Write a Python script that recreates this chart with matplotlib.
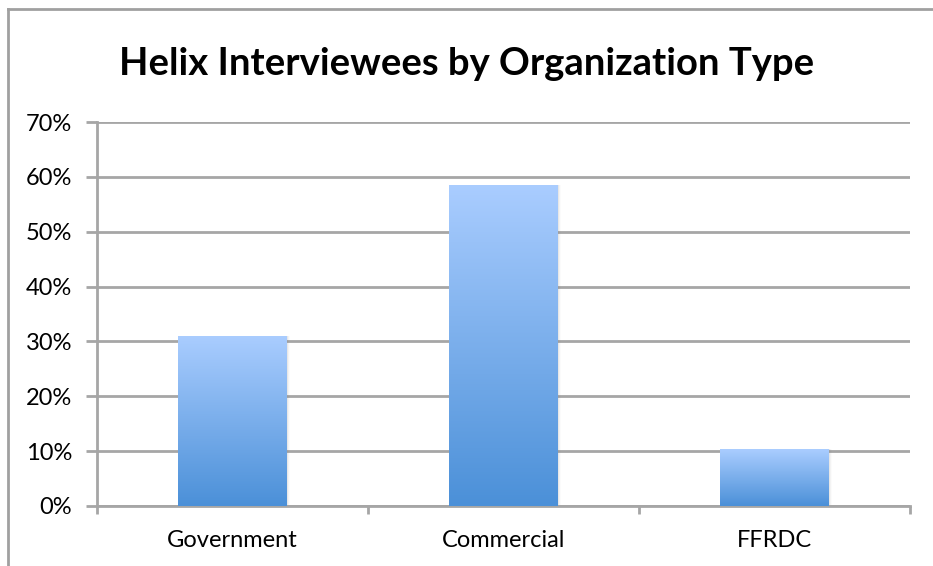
import numpy as np
import matplotlib.pyplot as plt
from matplotlib.colors import LinearSegmentedColormap
from matplotlib.lines import Line2D

# Share of interviewees per organization type
categories = ['Government', 'Commercial', 'FFRDC']
shares = [0.310, 0.586, 0.103]
yticks = [0.0, 0.1, 0.2, 0.3, 0.4, 0.5, 0.6, 0.7]

plt.rcParams['font.family'] = ['Lato', 'DejaVu Sans']

GRID = '#a6a6a6'
fig = plt.figure(figsize=(9.33, 5.66), dpi=100)
ax = fig.add_axes([97 / 933, 60 / 566, 813 / 933, 384 / 566])

# Chart frame (left and top edges)
fig.add_artist(Line2D([8 / 933, 8 / 933], [0, 1 - 9 / 566], transform=fig.transFigure,
                      color='#a0a0a0', lw=2))
fig.add_artist(Line2D([8 / 933, 1], [1 - 9 / 566, 1 - 9 / 566], transform=fig.transFigure,
                      color='#a0a0a0', lw=2))

x = np.arange(len(categories))
width = 0.40
bars = ax.bar(x, shares, width=width, color='none', edgecolor='none', zorder=3)

# Vertical gradient fill, light at the top, darker at the bottom
cmap = LinearSegmentedColormap.from_list('bar', ['#4b90d8', '#aacdff'])
grad = np.linspace(0, 1, 256).reshape(-1, 1)
for b in bars:
    x0, w, h = b.get_x(), b.get_width(), b.get_height()
    # soft shadow on the right edge
    for k, a in enumerate([0.10, 0.06, 0.03]):
        ax.add_patch(plt.Rectangle((x0 + w, 0), 0.004 * (k + 1), h, color='#808080',
                                   alpha=a, lw=0, zorder=2))
    im = ax.imshow(grad, cmap=cmap, origin='lower', aspect='auto',
                   extent=[x0, x0 + w, 0, h], zorder=3)
    im.set_clip_path(b)

ax.set_xlim(-0.5, len(categories) - 0.5)
ax.set_ylim(0, 0.7)

ax.set_yticks(yticks)
ax.set_yticklabels([f'{int(round(v * 100))}%' for v in yticks])
ax.yaxis.grid(True, color=GRID, lw=2)
ax.set_axisbelow(True)
ax.tick_params(axis='y', length=8, width=2, color=GRID, labelsize=17, pad=10)

ax.set_xticks(x)
ax.set_xticklabels(categories)
ax.set_xticks(np.arange(-0.5, len(categories)), minor=True)
ax.tick_params(axis='x', which='major', length=0, labelsize=17, pad=17)
ax.tick_params(axis='x', which='minor', length=5.5, width=2, color=GRID)

for side in ['top', 'right']:
    ax.spines[side].set_visible(False)
for side in ['left', 'bottom']:
    ax.spines[side].set_color(GRID)
    ax.spines[side].set_linewidth(2)

fig.text(0.5, 1 - 64 / 566, 'Helix Interviewees by Organization Type',
         ha='center', va='center', fontsize=27.5, fontweight='bold')

fig.savefig('out.png', dpi=100)
